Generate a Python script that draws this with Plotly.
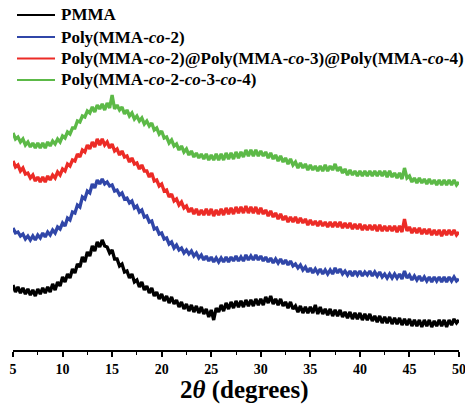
import numpy as np
import plotly.graph_objects as go

# 2-theta sampling grid (degrees), 0.25 deg step
two_theta = np.arange(5, 50.001, 0.25)

pmma = [
    65, 58, 63, 57, 62, 56, 61, 55, 60, 54, 61, 56, 62, 57, 63, 58, 66, 60, 68, 64,
    73, 68, 76, 72, 81, 77, 86, 83, 93, 88, 98, 94, 104, 99, 108, 103, 110, 104, 103, 97,
    100, 91, 91, 84, 86, 78, 79, 72, 76, 68, 70, 63, 68, 60, 64, 57, 62, 54, 58, 51,
    56, 49, 54, 47, 53, 46, 50, 43, 48, 41, 46, 39, 45, 38, 44, 37, 43, 36, 41, 33,
    40, 30, 42, 38, 45, 39, 47, 41, 48, 42, 49, 43, 49, 43, 50, 44, 50, 44, 51, 45,
    51, 45, 53, 47, 54, 46, 51, 45, 51, 44, 48, 42, 48, 41, 44, 38, 44, 37, 43, 37,
    43, 37, 45, 36, 43, 36, 41, 35, 41, 34, 40, 34, 40, 33, 38, 32, 38, 31, 37, 31,
    37, 30, 36, 30, 36, 29, 34, 28, 34, 27, 33, 27, 33, 26, 32, 26, 32, 25, 31, 25,
    31, 24, 30, 24, 30, 23, 30, 24, 30, 23, 29, 24, 30, 24, 30, 23, 30, 25, 31, 27,
    30,
]

poly_co2 = [
    122, 117, 118, 114, 116, 111, 114, 110, 114, 110, 115, 112, 117, 113, 118, 115, 120, 117, 123, 121,
    127, 124, 132, 130, 138, 137, 145, 143, 153, 151, 159, 157, 166, 162, 170, 166, 171, 166, 168, 164,
    165, 159, 160, 155, 157, 151, 152, 147, 149, 142, 144, 138, 140, 133, 134, 128, 129, 121, 122, 116,
    117, 111, 112, 106, 108, 102, 105, 100, 102, 97, 100, 96, 99, 94, 97, 92, 95, 90, 94, 89,
    93, 88, 92, 88, 92, 88, 93, 88, 93, 89, 94, 89, 93, 89, 95, 90, 94, 90, 95, 90,
    94, 89, 93, 88, 92, 87, 91, 87, 91, 86, 90, 85, 89, 84, 86, 82, 85, 80, 83, 78,
    82, 77, 81, 77, 81, 76, 80, 76, 80, 76, 82, 77, 81, 76, 79, 75, 79, 74, 79, 75,
    79, 74, 78, 75, 79, 74, 78, 74, 78, 73, 76, 72, 76, 72, 76, 72, 76, 71, 79, 72,
    75, 70, 74, 70, 74, 69, 73, 69, 73, 68, 73, 69, 73, 68, 73, 68, 73, 69, 73, 69,
    71,
]

poly_core_shell = [
    189, 183, 185, 179, 182, 176, 177, 172, 175, 169, 173, 168, 173, 168, 174, 170, 175, 172, 178, 175,
    181, 179, 186, 184, 190, 189, 196, 193, 200, 198, 205, 201, 208, 203, 211, 205, 211, 205, 208, 202,
    206, 199, 201, 195, 199, 193, 194, 188, 192, 186, 187, 181, 185, 179, 179, 173, 177, 169, 170, 164,
    166, 159, 160, 153, 156, 149, 151, 145, 148, 142, 144, 138, 142, 136, 141, 135, 140, 135, 141, 135,
    141, 134, 140, 135, 141, 135, 142, 136, 142, 136, 143, 137, 143, 137, 144, 137, 143, 137, 143, 136,
    142, 136, 140, 134, 139, 133, 137, 131, 136, 130, 134, 128, 133, 128, 133, 127, 132, 127, 131, 125,
    130, 125, 129, 124, 129, 124, 128, 123, 128, 123, 128, 123, 128, 122, 127, 122, 127, 121, 126, 121,
    126, 120, 125, 120, 125, 120, 125, 119, 125, 119, 124, 119, 124, 119, 124, 118, 124, 118, 131, 119,
    123, 117, 122, 117, 122, 116, 121, 116, 121, 115, 120, 115, 120, 114, 120, 115, 120, 115, 120, 115,
    118,
]

poly_random = [
    217, 211, 213, 208, 211, 205, 208, 203, 207, 202, 207, 202, 207, 202, 208, 204, 209, 206, 211, 208,
    214, 212, 218, 216, 222, 222, 229, 228, 234, 233, 239, 237, 243, 238, 245, 241, 246, 240, 247, 242,
    255, 241, 245, 240, 243, 236, 240, 234, 237, 231, 234, 229, 232, 226, 229, 224, 227, 220, 222, 216,
    219, 212, 213, 207, 210, 204, 206, 200, 204, 198, 201, 195, 199, 193, 197, 192, 196, 191, 196, 190,
    195, 190, 196, 190, 196, 190, 197, 191, 197, 191, 198, 192, 198, 193, 200, 194, 200, 194, 200, 194,
    199, 194, 198, 192, 197, 191, 195, 189, 194, 188, 192, 186, 191, 185, 188, 182, 187, 182, 186, 180,
    185, 180, 184, 179, 184, 179, 185, 179, 184, 180, 186, 179, 183, 177, 181, 175, 180, 175, 179, 174,
    179, 174, 179, 174, 179, 174, 179, 174, 179, 174, 179, 173, 179, 173, 177, 172, 177, 171, 182, 172,
    174, 168, 172, 167, 172, 167, 171, 166, 171, 166, 170, 165, 170, 165, 170, 165, 170, 165, 170, 165,
    168,
]

series_names = [
    "PMMA",
    "Poly(MMA-<i>co</i>-2)",
    "Poly(MMA-<i>co</i>-2)@Poly(MMA-<i>co</i>-3)@Poly(MMA-<i>co</i>-4)",
    "Poly(MMA-<i>co</i>-2-<i>co</i>-3-<i>co</i>-4)",
]
series_values = [pmma, poly_co2, poly_core_shell, poly_random]
series_colors = ["#000000", "#3046a8", "#ec2b26", "#5cb947"]

x_ticks = [5, 10, 15, 20, 25, 30, 35, 40, 45, 50]

W, H = 465, 404
ML, MR, MT, MB = 13, 6, 0, 54
PW, PH = W - ML - MR, H - MT - MB


def px_x(px):
    return (px - ML) / PW


def px_y(py):
    return (H - MB - py) / PH


fig = go.Figure()
for name, vals, col in zip(series_names, series_values, series_colors):
    fig.add_trace(go.Scatter(x=two_theta, y=vals, mode="lines", name=name,
                             line=dict(color=col, width=3.3)))

serif = "Liberation Serif, Times New Roman, serif"

# manual legend (rows)
legend_rows_py = [15, 37, 58.5, 80]
shapes = []
annotations = []
for name, col, py in zip(series_names, series_colors, legend_rows_py):
    shapes.append(dict(type="line", xref="paper", yref="paper",
                       x0=px_x(17), x1=px_x(55), y0=px_y(py), y1=px_y(py),
                       line=dict(color=col, width=2)))
    annotations.append(dict(x=px_x(59), y=px_y(py), xref="paper", yref="paper",
                            text="<b>" + name + "</b>", showarrow=False,
                            xanchor="left", yanchor="middle",
                            font=dict(family=serif, size=17, color="black")))

annotations.append(dict(x=28.3, y=px_y(390), xref="x", yref="paper",
                        text="<b>2<i>θ</i> (degrees)</b>", showarrow=False,
                        xanchor="center", yanchor="middle",
                        font=dict(family=serif, size=25, color="black")))

fig.update_layout(
    width=W, height=H,
    margin=dict(l=ML, r=MR, t=MT, b=MB, autoexpand=False),
    paper_bgcolor="white", plot_bgcolor="white",
    showlegend=False,
    xaxis=dict(range=[5, 50], tickvals=x_ticks, ticktext=[str(t) for t in x_ticks],
               showline=True, linecolor="black", linewidth=1.5,
               ticks="outside", ticklen=5, tickwidth=1.5, tickcolor="black",
               minor=dict(dtick=2.5, tick0=5, ticks="outside", ticklen=3, tickwidth=1.2,
                          tickcolor="black", showgrid=False),
               showgrid=False, zeroline=False, automargin=False,
               ticklabeloverflow="allow",
               tickfont=dict(family=serif, size=14, color="black", weight="bold")),
    yaxis=dict(range=[0, 350], visible=False, showgrid=False, zeroline=False),
    shapes=shapes,
    annotations=annotations,
)

fig.write_html("out.html", config={"displayModeBar": False},
               post_script="document.body.style.margin='0px';document.body.style.padding='0px';document.body.style.overflow='hidden';")
